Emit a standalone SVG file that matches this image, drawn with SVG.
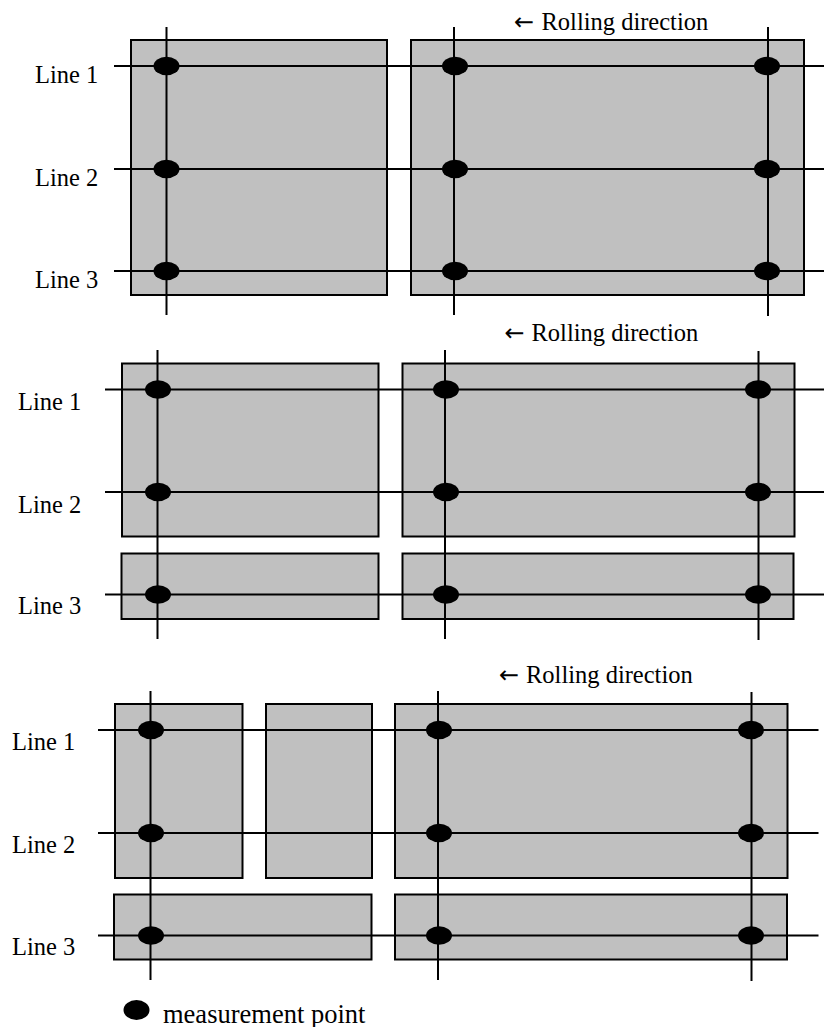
<svg xmlns="http://www.w3.org/2000/svg" width="824" height="1027" viewBox="0 0 824 1027">
<style>
.plate{fill:#c0c0c0;stroke:#000;stroke-width:2}
.ln{stroke:#000;stroke-width:2;fill:none}
.pt{fill:#000}
text{font-family:"Liberation Serif","DejaVu Serif",serif;font-size:24.5px;fill:#000}
.arr{font-family:"DejaVu Sans","Liberation Sans",sans-serif;font-size:24px}
.leg{font-size:26.5px}
</style>
<rect width="824" height="1027" fill="#fff"/>
<g id="panel1">
  <g id="p1-plates">
    <rect class="plate" x="131" y="40" width="256" height="255"/>
    <rect class="plate" x="411" y="40" width="393" height="255"/>
  </g>
  <g id="p1-lines">
    <line class="ln" x1="114" y1="66" x2="824" y2="66"/>
    <line class="ln" x1="114" y1="169" x2="824" y2="169"/>
    <line class="ln" x1="114" y1="271" x2="824" y2="271"/>
    <line class="ln" x1="166.5" y1="27" x2="166.5" y2="315"/>
    <line class="ln" x1="454" y1="27" x2="454" y2="315"/>
    <line class="ln" x1="768" y1="27" x2="768" y2="316"/>
  </g>
  <g id="p1-points">
    <ellipse class="pt" cx="166.5" cy="66" rx="13" ry="9.3"/>
    <ellipse class="pt" cx="166.5" cy="169" rx="13" ry="9.3"/>
    <ellipse class="pt" cx="166.5" cy="271" rx="13" ry="9.3"/>
    <ellipse class="pt" cx="455" cy="66" rx="13" ry="9.3"/>
    <ellipse class="pt" cx="455" cy="169" rx="13" ry="9.3"/>
    <ellipse class="pt" cx="455" cy="271" rx="13" ry="9.3"/>
    <ellipse class="pt" cx="767" cy="66" rx="13" ry="9.3"/>
    <ellipse class="pt" cx="767" cy="169" rx="13" ry="9.3"/>
    <ellipse class="pt" cx="767" cy="271" rx="13" ry="9.3"/>
  </g>
  <g id="p1-labels">
    <text x="35" y="83">Line 1</text>
    <text x="35" y="185.5">Line 2</text>
    <text x="35" y="287.5">Line 3</text>
    <text y="29.5"><tspan class="arr" x="514">←</tspan><tspan x="541.5">Rolling direction</tspan></text>
  </g>
</g>
<g id="panel2">
  <g id="p2-plates">
    <rect class="plate" x="122" y="363.5" width="256.5" height="173"/>
    <rect class="plate" x="402.5" y="363.5" width="392" height="173"/>
    <rect class="plate" x="121.5" y="553.5" width="257" height="65.5"/>
    <rect class="plate" x="402.5" y="553.5" width="391" height="65.5"/>
  </g>
  <g id="p2-lines">
    <line class="ln" x1="105" y1="389.5" x2="824" y2="389.5"/>
    <line class="ln" x1="105" y1="492" x2="824" y2="492"/>
    <line class="ln" x1="105" y1="594.5" x2="824" y2="594.5"/>
    <line class="ln" x1="157.5" y1="350" x2="157.5" y2="639"/>
    <line class="ln" x1="445" y1="350" x2="445" y2="639"/>
    <line class="ln" x1="758.5" y1="351" x2="758.5" y2="640"/>
  </g>
  <g id="p2-points">
    <ellipse class="pt" cx="158" cy="389.5" rx="13" ry="9.3"/>
    <ellipse class="pt" cx="158" cy="492" rx="13" ry="9.3"/>
    <ellipse class="pt" cx="158" cy="594.5" rx="13" ry="9.3"/>
    <ellipse class="pt" cx="446" cy="389.5" rx="13" ry="9.3"/>
    <ellipse class="pt" cx="446" cy="492" rx="13" ry="9.3"/>
    <ellipse class="pt" cx="446" cy="594.5" rx="13" ry="9.3"/>
    <ellipse class="pt" cx="758" cy="389.5" rx="13" ry="9.3"/>
    <ellipse class="pt" cx="758" cy="492" rx="13" ry="9.3"/>
    <ellipse class="pt" cx="758" cy="594.5" rx="13" ry="9.3"/>
  </g>
  <g id="p2-labels">
    <text x="18" y="410">Line 1</text>
    <text x="18" y="513">Line 2</text>
    <text x="18" y="614">Line 3</text>
    <text y="341"><tspan class="arr" x="504.5">←</tspan><tspan x="531.5">Rolling direction</tspan></text>
  </g>
</g>
<g id="panel3">
  <g id="p3-plates">
    <rect class="plate" x="115" y="704" width="127.5" height="174"/>
    <rect class="plate" x="266" y="704" width="106" height="174"/>
    <rect class="plate" x="395" y="704" width="392.5" height="174"/>
    <rect class="plate" x="114" y="894.5" width="257.5" height="65"/>
    <rect class="plate" x="395" y="894.5" width="392" height="65"/>
  </g>
  <g id="p3-lines">
    <line class="ln" x1="98" y1="730" x2="818.5" y2="730"/>
    <line class="ln" x1="98" y1="833" x2="818.5" y2="833"/>
    <line class="ln" x1="98" y1="935.5" x2="818.5" y2="935.5"/>
    <line class="ln" x1="150.5" y1="691" x2="150.5" y2="980"/>
    <line class="ln" x1="438" y1="691" x2="438" y2="980"/>
    <line class="ln" x1="751.5" y1="692" x2="751.5" y2="981"/>
  </g>
  <g id="p3-points">
    <ellipse class="pt" cx="151" cy="730" rx="13" ry="9.3"/>
    <ellipse class="pt" cx="151" cy="833" rx="13" ry="9.3"/>
    <ellipse class="pt" cx="151" cy="935.5" rx="13" ry="9.3"/>
    <ellipse class="pt" cx="439" cy="730" rx="13" ry="9.3"/>
    <ellipse class="pt" cx="439" cy="833" rx="13" ry="9.3"/>
    <ellipse class="pt" cx="439" cy="935.5" rx="13" ry="9.3"/>
    <ellipse class="pt" cx="751" cy="730" rx="13" ry="9.3"/>
    <ellipse class="pt" cx="751" cy="833" rx="13" ry="9.3"/>
    <ellipse class="pt" cx="751" cy="935.5" rx="13" ry="9.3"/>
  </g>
  <g id="p3-labels">
    <text x="12" y="750">Line 1</text>
    <text x="12" y="853">Line 2</text>
    <text x="12" y="954.5">Line 3</text>
    <text y="682.5"><tspan class="arr" x="499">←</tspan><tspan x="526">Rolling direction</tspan></text>
  </g>
</g>
<g id="legend">
  <ellipse class="pt" cx="136.5" cy="1010" rx="13" ry="10"/>
  <text class="leg" x="163" y="1022.5">measurement point</text>
</g>
</svg>
